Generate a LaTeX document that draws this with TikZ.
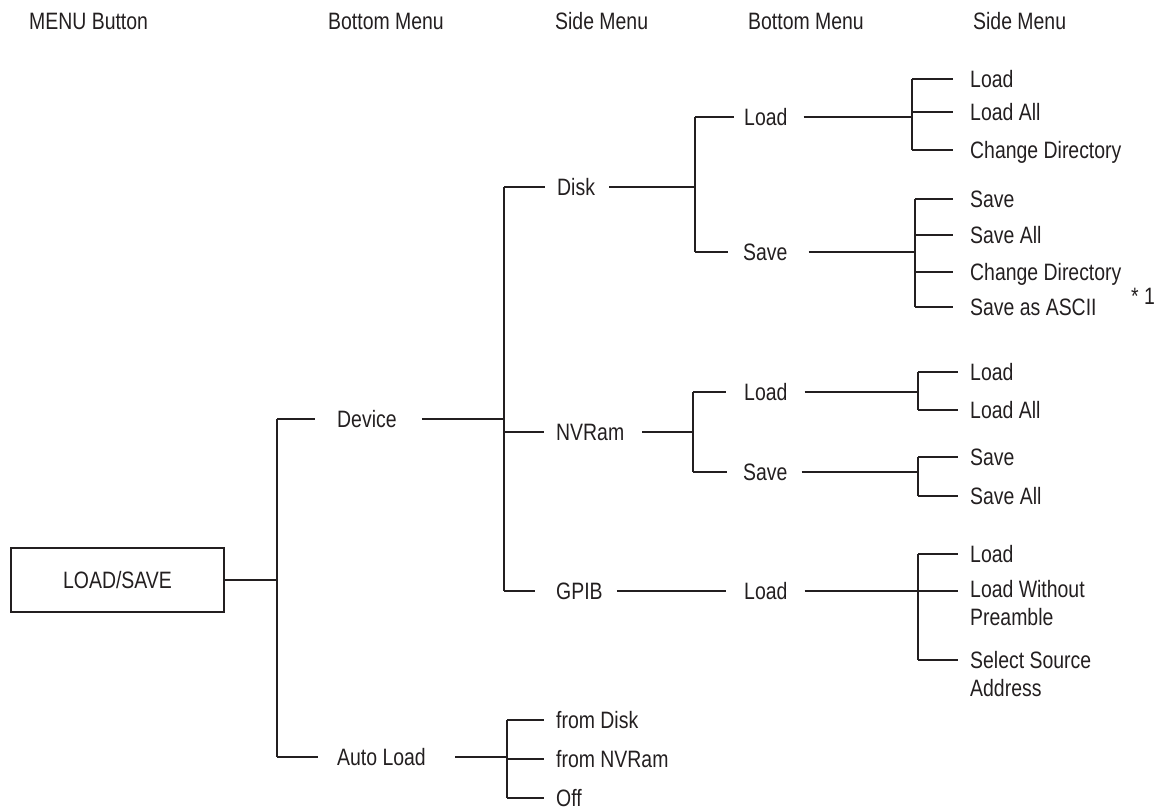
\documentclass[tikz,border=0pt]{standalone}
\usepackage{fontspec}
\setmainfont{Liberation Sans}[FakeStretch=0.82]
\usetikzlibrary{calc}
\definecolor{ink}{HTML}{231F20}
\newcommand\lbf{\fontsize{23.7}{28.5}\selectfont}
\tikzset{
  lbl/.style={font=\lbf, text=ink, inner sep=0pt, anchor=west, text height=17pt, text depth=0pt},
  mlbl/.style={font=\lbf, text=ink, inner sep=0pt, anchor=north west, align=left},
  conn/.style={draw=ink, line width=1.2pt}
}
\begin{document}
\begin{tikzpicture}[x=1pt,y=-1pt]
\useasboundingbox (0,0) rectangle (1166,810);
% headers
\node[lbl] (h1) at (29,21) {MENU Button};
\node[lbl] (h2) at (328,21) {Bottom Menu};
\node[lbl] (h3) at (555,21) {Side Menu};
\node[lbl] (h4) at (748,21) {Bottom Menu};
\node[lbl] (h5) at (973,21) {Side Menu};
% root box
\node[draw=ink, line width=1.2pt, minimum width=213pt, minimum height=64pt, inner sep=0pt, font=\lbf, text=ink] (ls) at (117.5,580) {LOAD/SAVE};
% level 1
\node[lbl] (dev) at (337,419) {Device};
\node[lbl] (auto) at (337,757) {Auto Load};
% level 2
\node[lbl] (disk) at (557,187) {Disk};
\node[lbl] (nvr) at (556,432) {NVRam};
\node[lbl] (gpib) at (556,591) {GPIB};
\node[lbl] (a1) at (556,720) {from Disk};
\node[lbl] (a2) at (556,759) {from NVRam};
\node[lbl] (a3) at (556,798) {Off};
% level 3
\node[lbl] (dl) at (744,117) {Load};
\node[lbl] (ds) at (743,252) {Save};
\node[lbl] (nl) at (744,392) {Load};
\node[lbl] (ns) at (743,472) {Save};
\node[lbl] (gl) at (744,591) {Load};
% level 4
\node[lbl] (dl1) at (970,79) {Load};
\node[lbl] (dl2) at (970,112) {Load All};
\node[lbl] (dl3) at (970,150) {Change Directory};
\node[lbl] (ds1) at (970,199) {Save};
\node[lbl] (ds2) at (970,235) {Save All};
\node[lbl] (ds3) at (970,272) {Change Directory};
\node[lbl] (ds4) at (970,307) {Save as ASCII};
\node[lbl] (star) at (1131,296) {* 1};
\node[lbl] (nl1) at (970,372) {Load};
\node[lbl] (nl2) at (970,410) {Load All};
\node[lbl] (ns1) at (970,457) {Save};
\node[lbl] (ns2) at (970,496) {Save All};
\node[lbl] (gl1) at (970,554) {Load};
\node[mlbl] (gl2) at (970,580) {Load Without\\Preamble};
\node[mlbl] (gl3) at (970,651) {Select Source\\Address};
\coordinate (gl2a) at ($(gl2.north west)+(0,11)$);
\coordinate (gl3a) at ($(gl3.north west)+(0,9)$);
% junctions
\coordinate (jR) at (277,580);
\coordinate (jDev) at (504,417);
\coordinate (jDisk) at (695,187);
\coordinate (jDL) at (912,117);
\coordinate (jDS) at (915,252);
\coordinate (jN) at (693,432);
\coordinate (jNL) at (918,392);
\coordinate (jNS) at (918,472);
\coordinate (jG) at (918,591);
\coordinate (jA) at (507,757);
% root
\draw[conn] (ls.east) -- (jR |- ls.east);
\draw[conn] (jR |- dev.west) -- (jR |- auto.west);
\draw[conn] (jR |- dev.west) -- ($(dev.west)+(-22,0)$);
\draw[conn] (jR |- auto.west) -- ($(auto.west)+(-19,0)$);
% device
\draw[conn] ($(dev.east)+(25,0)$) -- (jDev |- dev.east);
\draw[conn] (jDev |- disk.west) -- (jDev |- gpib.west);
\draw[conn] (jDev |- disk.west) -- ($(disk.west)+(-12,0)$);
\draw[conn] (jDev |- nvr.west) -- ($(nvr.west)+(-12,0)$);
\draw[conn] (jDev |- gpib.west) -- ($(gpib.west)+(-21,0)$);
% disk
\draw[conn] ($(disk.east)+(14,0)$) -- (jDisk |- disk.east);
\draw[conn] (jDisk |- dl.west) -- (jDisk |- ds.west);
\draw[conn] (jDisk |- dl.west) -- ($(dl.west)+(-10,0)$);
\draw[conn] (jDisk |- ds.west) -- ($(ds.west)+(-15,0)$);
% disk load
\draw[conn] ($(dl.east)+(16,0)$) -- (jDL |- dl.east);
\draw[conn] (jDL |- dl1.west) -- (jDL |- dl3.west);
\foreach \n in {dl1,dl2,dl3} \draw[conn] (jDL |- \n.west) -- ($(\n.west)+(-17,0)$);
% disk save
\draw[conn] ($(ds.east)+(21,0)$) -- (jDS |- ds.east);
\draw[conn] (jDS |- ds1.west) -- (jDS |- ds4.west);
\foreach \n in {ds1,ds2,ds3,ds4} \draw[conn] (jDS |- \n.west) -- ($(\n.west)+(-17,0)$);
% nvram
\draw[conn] ($(nvr.east)+(18,0)$) -- (jN |- nvr.east);
\draw[conn] (jN |- nl.west) -- (jN |- ns.west);
\draw[conn] (jN |- nl.west) -- ($(nl.west)+(-18,0)$);
\draw[conn] (jN |- ns.west) -- ($(ns.west)+(-16,0)$);
\draw[conn] ($(nl.east)+(17,0)$) -- (jNL |- nl.east);
\draw[conn] (jNL |- nl1.west) -- (jNL |- nl2.west);
\foreach \n in {nl1,nl2} \draw[conn] (jNL |- \n.west) -- ($(\n.west)+(-12,0)$);
\draw[conn] ($(ns.east)+(14,0)$) -- (jNS |- ns.east);
\draw[conn] (jNS |- ns1.west) -- (jNS |- ns2.west);
\foreach \n in {ns1,ns2} \draw[conn] (jNS |- \n.west) -- ($(\n.west)+(-12,0)$);
% gpib
\draw[conn] ($(gpib.east)+(14,0)$) -- ($(gl.west)+(-18,0)$);
\draw[conn] ($(gl.east)+(17,0)$) -- (jG |- gl.east);
\draw[conn] (jG |- gl1.west) -- (jG |- gl3a);
\draw[conn] (jG |- gl1.west) -- ($(gl1.west)+(-12,0)$);
\draw[conn] (jG |- gl2a) -- ($(gl2a)+(-12,0)$);
\draw[conn] (jG |- gl3a) -- ($(gl3a)+(-12,0)$);
% auto load
\draw[conn] ($(auto.east)+(29,0)$) -- (jA |- auto.east);
\draw[conn] (jA |- a1.west) -- (jA |- a3.west);
\foreach \n in {a1,a2,a3} \draw[conn] (jA |- \n.west) -- ($(\n.west)+(-12,0)$);
\end{tikzpicture}
\end{document}
